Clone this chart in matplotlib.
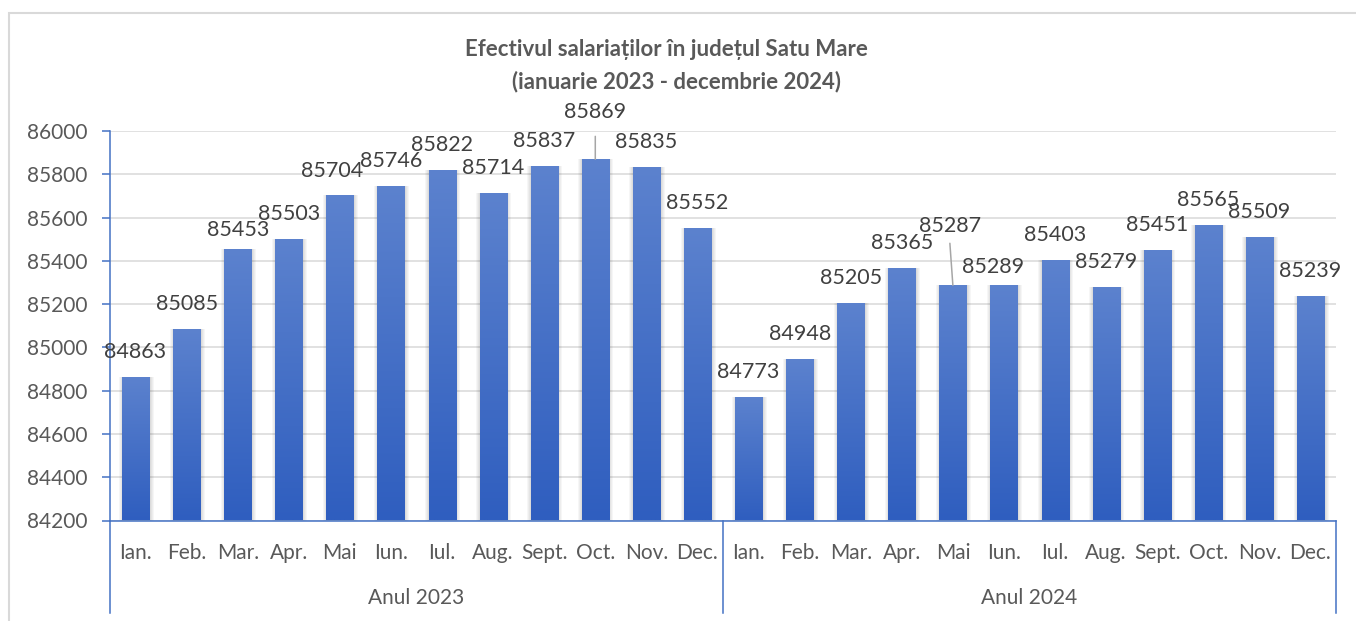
import matplotlib
matplotlib.use('Agg')
import matplotlib.pyplot as plt
import numpy as np
from matplotlib.colors import LinearSegmentedColormap
from matplotlib.patches import Rectangle
from matplotlib.lines import Line2D

plt.rcParams['font.family'] = ['Lato', 'DejaVu Sans']

# date
luni = ['Ian.', 'Feb.', 'Mar.', 'Apr.', 'Mai', 'Iun.', 'Iul.', 'Aug.', 'Sept.', 'Oct.', 'Nov.', 'Dec.']
ani = ['Anul 2023', 'Anul 2024']
salariati_2023 = [84863, 85085, 85453, 85503, 85704, 85746, 85822, 85714, 85837, 85869, 85835, 85552]
salariati_2024 = [84773, 84948, 85205, 85365, 85287, 85289, 85403, 85279, 85451, 85565, 85509, 85239]
y_ticks = [84200, 84400, 84600, 84800, 85000, 85200, 85400, 85600, 85800, 86000]

valori = salariati_2023 + salariati_2024
etichete = luni * 2
x = np.arange(len(valori))

W, H = 1356, 621
fig = plt.figure(figsize=(W / 100, H / 100), dpi=100)
ax = fig.add_axes([110 / W, 1 - 520.5 / H, 1226 / W, 389.5 / H])

albastru = '#4472C4'
gri_text = '#595959'
ymin, ymax = y_ticks[0], y_ticks[-1]
px = 1 / 51.08  # un pixel in unitati de date pe x

# umbra barelor
for k in range(1, 5):
    ax.bar(x + 0.6 * px, np.array(valori) - ymin, 0.53 + 2 * k * px, bottom=ymin,
           color='#000000', alpha=0.035, linewidth=0, zorder=2)

# bare cu gradient
cmap = LinearSegmentedColormap.from_list('grad', ['#2F5EBF', '#5C82CE'])
grad = np.linspace(0, 1, 256).reshape(-1, 1)
bars = ax.bar(x, np.array(valori) - ymin, 0.53, bottom=ymin, facecolor='none',
              linewidth=0, zorder=3)
for b in bars:
    x0, w, h = b.get_x(), b.get_width(), b.get_height()
    im = ax.imshow(grad, extent=[x0, x0 + w, ymin, ymin + h], origin='lower',
                   aspect='auto', cmap=cmap, zorder=3, interpolation='bilinear')
    im.set_clip_path(b)

# etichete de date (deplasari in pixeli)
deplasari = {2: (0, 19), 4: (-8, 24), 9: (0, 47), 16: (-3, 59), 17: (-11, 18)}
linii_ghid = {9: (0, 23), 16: (-3, 42)}
for i, v in enumerate(valori):
    dx, dy = deplasari.get(i, (0, 25))
    ax.annotate(f'{v}', xy=(i, v), xytext=(dx * 0.72, dy * 0.72),
                textcoords='offset points', ha='center', va='center',
                fontsize=15.5, color='#404040', zorder=5)
    if i in linii_ghid:
        lx, ly = linii_ghid[i]
        ax.annotate('', xy=(i, v), xytext=(lx * 0.72, ly * 0.72),
                    textcoords='offset points',
                    arrowprops=dict(arrowstyle='-', color='#A6A6A6', lw=1.1,
                                    shrinkA=0, shrinkB=0), zorder=4)

ax.set_xlim(-0.5, len(valori) - 0.5)
ax.set_ylim(ymin, ymax)
ax.set_yticks(y_ticks)
ax.set_yticklabels([str(t) for t in y_ticks])
ax.set_xticks(x)
ax.set_xticklabels(etichete)

ax.yaxis.grid(True, color='#D9D9D9', lw=1.1)
ax.set_axisbelow(True)
for s in ['top', 'right']:
    ax.spines[s].set_visible(False)
for s in ['left', 'bottom']:
    ax.spines[s].set_color(albastru)
    ax.spines[s].set_linewidth(1.1)

ax.tick_params(axis='y', direction='out', length=5.8, width=1.1, color=albastru,
               labelcolor=gri_text, labelsize=15, pad=10.5)
ax.tick_params(axis='x', length=0, labelcolor=gri_text, labelsize=15, pad=16)

# separatori si etichete de grup pe axa categoriilor
tr = ax.get_xaxis_transform()
for xs in [-0.5, 11.5, 23.5]:
    ax.add_line(Line2D([xs, xs], [0, -0.2375], transform=tr, color=albastru,
                       lw=1.1, clip_on=False))
for j, an in enumerate(ani):
    ax.text(j * 12 + 5.5, -0.199, an, transform=tr, ha='center', va='center',
            fontsize=15, color=gri_text)

# chenar exterior
fig.add_artist(Rectangle((9 / W, -0.1), 2, 1 - 12.7 / H + 0.1, transform=fig.transFigure,
                         fill=False, edgecolor='#D9D9D9', lw=1.5))

fig.text(666 / W, 1 - 50 / H, 'Efectivul salariaților în județul Satu Mare',
         ha='center', va='center', fontsize=16, weight='bold', color=gri_text)
fig.text(676 / W, 1 - 82 / H, '(ianuarie 2023 - decembrie 2024)',
         ha='center', va='center', fontsize=16, weight='bold', color=gri_text)

fig.savefig('out.png', dpi=100)
